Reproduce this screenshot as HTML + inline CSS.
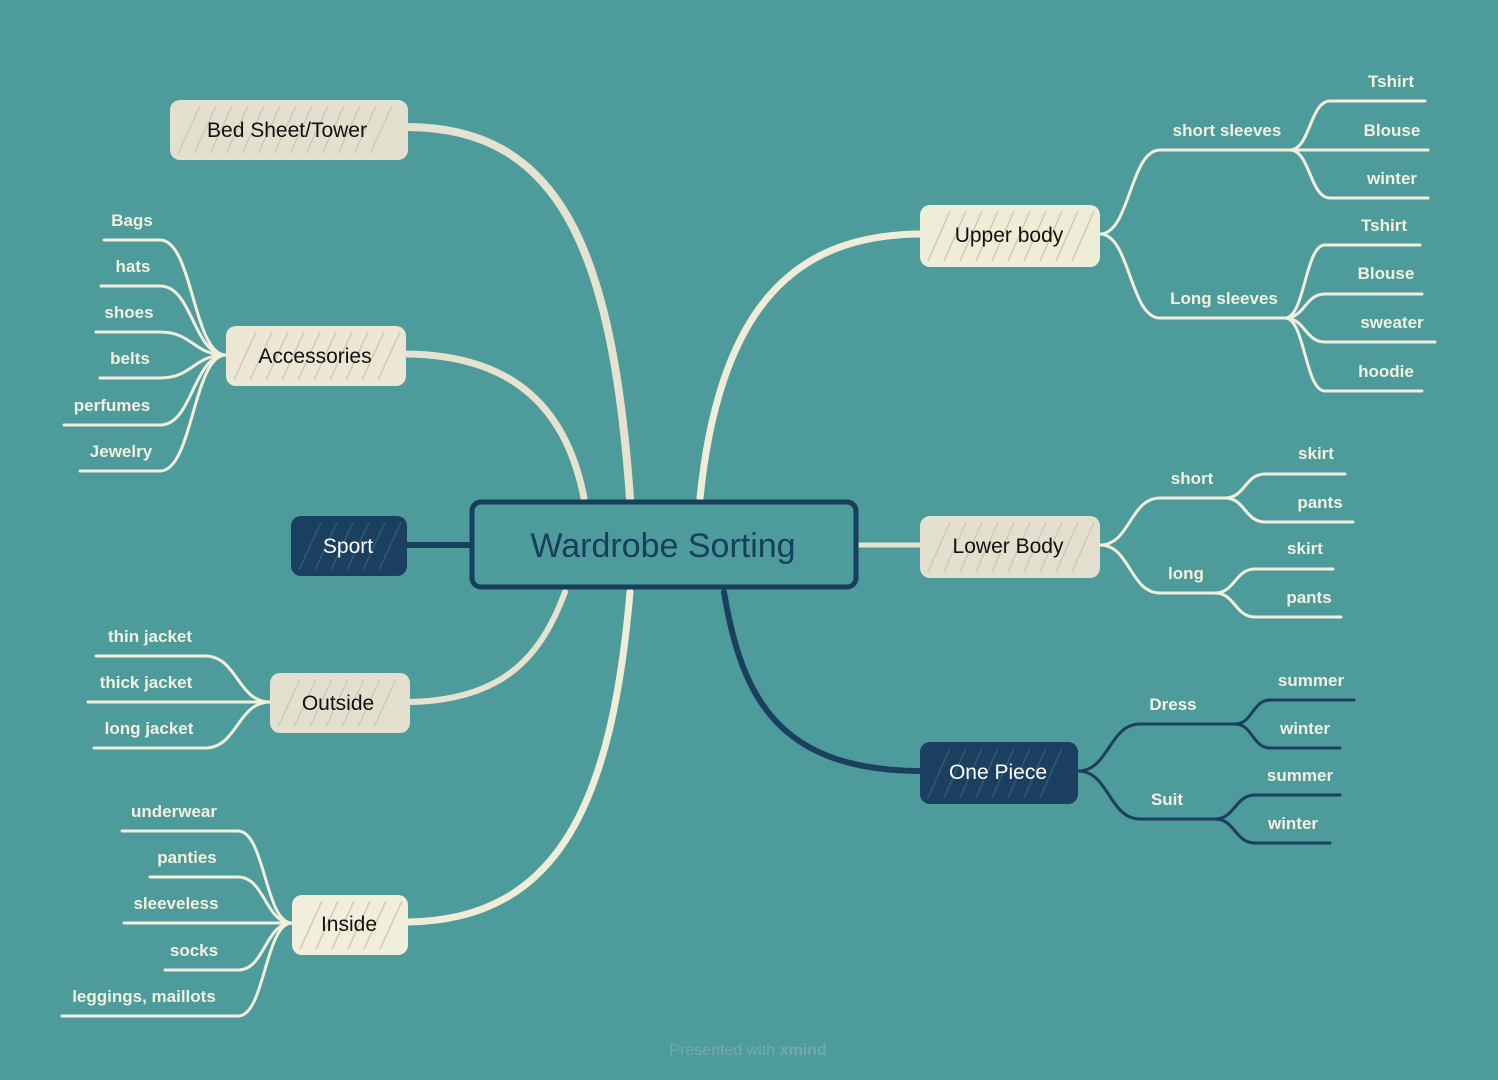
<!DOCTYPE html>
<html><head><meta charset="utf-8"><style>
html,body{margin:0;padding:0;background:#4d9b9b;}
svg{display:block;}
text{font-family:"Liberation Sans",sans-serif;}
.lf{fill:#f3f1df;font-size:17px;font-weight:bold;text-anchor:middle;}
.nd{font-size:21px;text-anchor:middle;}
</style></head><body>
<svg id="s" width="1498" height="1080" viewBox="0 0 1498 1080" xmlns="http://www.w3.org/2000/svg">
<rect width="1498" height="1080" fill="#4d9b9b"/>
<g fill="none" stroke-linecap="round">
<path d="M630,498 C612,250 560,128 408,127" stroke="#e6e2d0" stroke-width="8"/>
<path d="M584,498 C565,400 505,355 406,354" stroke="#e6e2d0" stroke-width="7"/>
<path d="M700,498 C720,300 800,235 920,234" stroke="#efecd8" stroke-width="7"/>
<path d="M858,545 L920,545" stroke="#e6e2d0" stroke-width="5"/>
<path d="M470,545 L407,545" stroke="#1b3f5e" stroke-width="6"/>
<path d="M565,592 C540,660 500,700 410,702" stroke="#e6e2d0" stroke-width="6"/>
<path d="M630,592 C612,800 560,920 408,922" stroke="#efecd8" stroke-width="7"/>
<path d="M724,592 C742,700 780,770 920,771" stroke="#1b3f5e" stroke-width="6"/>
</g>
<g id="leaves" fill="none" stroke-linecap="round"></g>
<g id="lt"></g>
<rect x="472" y="502" width="384" height="85" rx="9" fill="#4d9b9b" stroke="#173e5c" stroke-width="5"/>
<text x="663" y="557" text-anchor="middle" font-size="34" fill="#173e5c">Wardrobe Sorting</text>
<g id="nodes"></g>
<text x="748" y="1055" text-anchor="middle" font-size="16" fill="#74abaa">Presented with <tspan font-weight="bold">xmind</tspan></text>
</svg>
<script>
var NS="http://www.w3.org/2000/svg";
function el(p,t,a,txt){var e=document.createElementNS(NS,t);for(var k in a)e.setAttribute(k,a[k]);if(txt)e.textContent=txt;document.getElementById(p).appendChild(e);}
var C="#f1efdc",D="#1b3f5e";
function curve(x1,y1,x2,y2,col,w){var mx=(x1+x2)/2;el("leaves","path",{d:"M"+x1+","+y1+" C"+mx+","+y1+" "+mx+","+y2+" "+x2+","+y2,stroke:col,"stroke-width":w||3});}
function line(x1,x2,y,col){el("leaves","path",{d:"M"+x1+","+y+" L"+x2+","+y,stroke:col,"stroke-width":3});}
function txt(x,y,s,col){el("lt","text",{x:x,y:y,"class":"lf",fill:col||C},s);}
curve(1100,234,1160,150,C);line(1160,1290,150,C);txt(1227,136,"short sleeves");
[[101,1425,"Tshirt",1391,87],[150,1428,"Blouse",1392,136],[198,1428,"winter",1392,184]].forEach(function(a){curve(1290,150,1330,a[0],C);line(1330,a[1],a[0],C);txt(a[3],a[4],a[2]);});
curve(1100,234,1160,318,C);line(1160,1285,318,C);txt(1224,304,"Long sleeves");
[[245,1420,"Tshirt",1384,231],[294,1422,"Blouse",1386,279],[342,1435,"sweater",1392,328],[391,1422,"hoodie",1386,377]].forEach(function(a){curve(1285,318,1325,a[0],C);line(1325,a[1],a[0],C);txt(a[3],a[4],a[2]);});
curve(1100,545,1160,498,C);line(1160,1225,498,C);txt(1192,484,"short");
[[474,1345,"skirt",1316,459],[522,1353,"pants",1320,508]].forEach(function(a){curve(1225,498,1265,a[0],C);line(1265,a[1],a[0],C);txt(a[3],a[4],a[2]);});
curve(1100,545,1160,593,C);line(1160,1215,593,C);txt(1186,579,"long");
[[569,1333,"skirt",1305,554],[617,1341,"pants",1309,603]].forEach(function(a){curve(1215,593,1255,a[0],C);line(1255,a[1],a[0],C);txt(a[3],a[4],a[2]);});
curve(1078,771,1140,724,D);line(1140,1235,724,D);txt(1173,710,"Dress");
[[700,1354,"summer",1311,686],[748,1340,"winter",1305,734]].forEach(function(a){curve(1235,724,1270,a[0],D);line(1270,a[1],a[0],D);txt(a[3],a[4],a[2]);});
curve(1078,771,1140,819,D);line(1140,1215,819,D);txt(1167,805,"Suit");
[[795,1340,"summer",1300,781],[843,1330,"winter",1293,829]].forEach(function(a){curve(1215,819,1255,a[0],D);line(1255,a[1],a[0],D);txt(a[3],a[4],a[2]);});
[[240,104,"Bags",132,226],[286,101,"hats",133,272],[332,96,"shoes",129,318],[378,100,"belts",130,364],[425,64,"perfumes",112,411],[471,80,"Jewelry",121,457]].forEach(function(a){curve(226,355,160,a[0],C);line(a[1],160,a[0],C);txt(a[3],a[4],a[2]);});
[[656,96,"thin jacket",150,642],[702,88,"thick jacket",146,688],[748,94,"long jacket",149,734]].forEach(function(a){curve(270,702,205,a[0],C);line(a[1],205,a[0],C);txt(a[3],a[4],a[2]);});
[[831,122,"underwear",174,817],[877,150,"panties",187,863],[923,124,"sleeveless",176,909],[970,165,"socks",194,956],[1016,62,"leggings, maillots",144,1002]].forEach(function(a){curve(292,923,238,a[0],C);line(a[1],238,a[0],C);txt(a[3],a[4],a[2]);});
function node(x,y,w,h,fill,tc,s,tx,ty){el("nodes","rect",{x:x,y:y,width:w,height:h,rx:10,fill:fill});
for(var i=x+8;i+22<x+w-4;i+=16){el("nodes","path",{d:"M"+i+","+(y+h-6)+" L"+(i+22)+","+(y+6),stroke:fill==D?"#2c5b78":"#cfcab4","stroke-width":1.5,fill:"none"});}
el("nodes","text",{x:tx,y:ty,"class":"nd",fill:tc},s);}
node(170,100,238,60,"#e4e0cf","#111","Bed Sheet/Tower",287,137);
node(226,326,180,60,"#ebe7d4","#111","Accessories",315,363);
node(291,516,116,60,D,"#fff","Sport",348,553);
node(270,673,140,60,"#e4e0cf","#111","Outside",338,710);
node(292,895,116,60,"#f1eedb","#111","Inside",349,931);
node(920,205,180,62,"#efecd8","#111","Upper body",1009,242);
node(920,516,180,62,"#e4e0cf","#111","Lower Body",1008,553);
node(920,742,158,62,D,"#fff","One Piece",998,779);
</script>
</body></html>
